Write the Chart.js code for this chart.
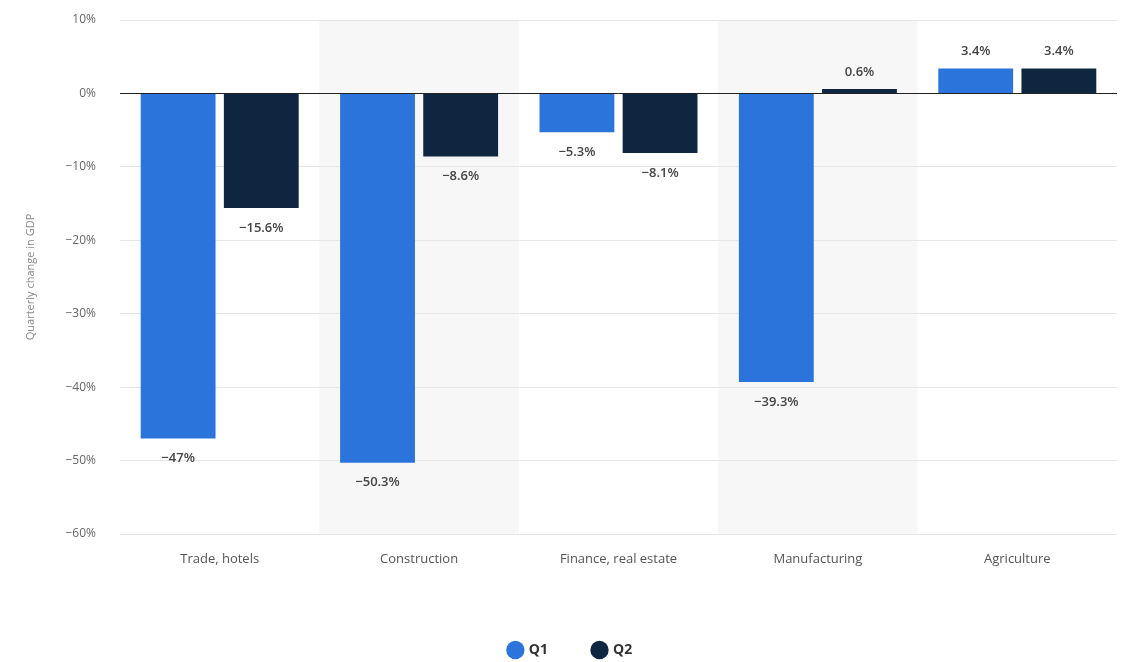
<!DOCTYPE html>
<html>
<head>
<meta charset="utf-8">
<script src="https://cdn.jsdelivr.net/npm/chart.js@4"></script>
<style>
  html, body { margin: 0; padding: 0; background: #fff; }
  #wrap { width: 1122px; height: 662px; }
</style>
</head>
<body>
<div id="wrap"><canvas id="myChart" width="1122" height="662"></canvas></div>
<script>
// sectors and quarterly GDP change (%)
const sectors = ['Trade, hotels', 'Construction', 'Finance, real estate', 'Manufacturing', 'Agriculture'];
const q1 = [-47, -50.3, -5.3, -39.3, 3.4];
const q2 = [-15.6, -8.6, -8.1, 0.6, 3.4];
const yTicks = [10, 0, -10, -20, -30, -40, -50, -60];

const blue = '#2a74dc';
const navy = '#0f2640';

// light bands behind every second category
const bandPlugin = {
  id: 'bands',
  beforeDraw(chart) {
    const { ctx, chartArea, scales } = chart;
    const x = scales.x;
    const step = (chartArea.right - chartArea.left) / sectors.length;
    ctx.save();
    ctx.fillStyle = '#f7f7f7';
    sectors.forEach((s, i) => {
      if (i % 2 === 1) {
        const cx = x.getPixelForValue(i);
        ctx.fillRect(cx - step / 2, chartArea.top, step, chartArea.bottom - chartArea.top);
      }
    });
    ctx.restore();
  }
};

// value labels above / below each bar
const labelPlugin = {
  id: 'valueLabels',
  afterDatasetsDraw(chart) {
    const { ctx } = chart;
    ctx.save();
    ctx.font = '600 13px "Open Sans"';
    ctx.fillStyle = '#444';
    ctx.textAlign = 'center';
    ctx.textBaseline = 'middle';
    chart.data.datasets.forEach((ds, di) => {
      chart.getDatasetMeta(di).data.forEach((bar, i) => {
        const v = ds.data[i];
        const y = v < 0 ? bar.y + 20 : bar.y - 17;
        ctx.fillText(String(v).replace('-', '\u2212') + '%', bar.x, y);
      });
    });
    ctx.restore();
  }
};

new Chart(document.getElementById('myChart'), {
  type: 'bar',
  data: {
    labels: sectors,
    datasets: [
      { label: 'Q1', data: q1, backgroundColor: blue, borderWidth: 0 },
      { label: 'Q2', data: q2, backgroundColor: navy, borderWidth: 0 }
    ]
  },
  options: {
    responsive: false,
    animation: false,
    categoryPercentage: 0.834,
    barPercentage: 0.9,
    layout: { padding: { left: 24, right: 5, top: 20, bottom: -5 } },
    plugins: {
      tooltip: { enabled: false },
      legend: {
        position: 'bottom',
        labels: {
          usePointStyle: true,
          pointStyle: 'circle',
          boxWidth: 13,
          boxHeight: 13,
          padding: 45,
          color: '#333',
          font: { family: '"Open Sans"', size: 14, weight: 'bold' }
        }
      }
    },
    scales: {
      x: {
        grid: { display: false },
        border: { display: false },
        ticks: { color: '#555', padding: 9, font: { family: '"Open Sans"', size: 13 } },
        afterFit(scale) { scale.height = 64; }
      },
      y: {
        min: -60,
        max: 10,
        afterBuildTicks(scale) { scale.ticks = yTicks.map(v => ({ value: v })); },
        grid: {
          drawTicks: true,
          tickLength: 24,
          tickColor: 'rgba(0,0,0,0)',
          color: ctx => ctx.tick && ctx.tick.value === 0 ? '#222' : '#e6e6e6',
          lineWidth: 1
        },
        border: { display: false },
        ticks: {
          color: '#666',
          padding: 0,
          font: { family: '"Open Sans"', size: 12 },
          callback: v => String(v).replace('-', '\u2212') + '%'
        },
        title: {
          display: true,
          text: 'Quarterly change in GDP',
          color: '#888',
          font: { family: '"Open Sans"', size: 11 },
          padding: 0
        },
        afterFit(scale) { scale.width = 96; }
      }
    }
  },
  plugins: [bandPlugin, labelPlugin]
});
</script>
</body>
</html>
